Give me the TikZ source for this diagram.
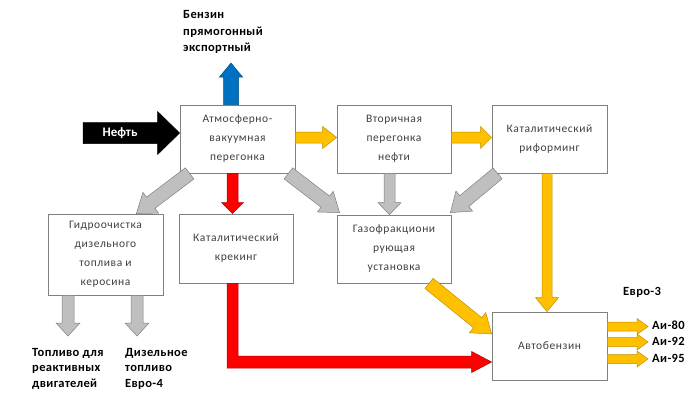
\documentclass[tikz,border=0pt]{standalone}
\usepackage{fontspec}
\setmainfont{Carlito}
\newfontfamily\boxfont[LetterSpace=5]{Carlito}
\newfontfamily\lblfont[LetterSpace=3]{Carlito}
\usetikzlibrary{calc}
\definecolor{ayellow}{HTML}{FFC000}
\definecolor{ared}{HTML}{FF0000}
\definecolor{ablue}{HTML}{0070C0}
\definecolor{agray}{HTML}{BFBFBF}
\definecolor{boxtext}{HTML}{404040}
\definecolor{boxline}{HTML}{808080}
% #1 style, #2 from, #3 to, #4 half body, #5 half head, #6 head length
\newcommand\blockarrow[6][]{%
  \coordinate (ba-h) at ($(#3)!#6!(#2)$);
  \draw[#1] ($(#2)!#4!90:(#3)$) -- ($(ba-h)!#4!90:(#3)$) -- ($(ba-h)!#5!90:(#3)$)
    -- (#3) -- ($(ba-h)!#5!-90:(#3)$) -- ($(ba-h)!#4!-90:(#3)$) -- ($(#2)!#4!-90:(#3)$) -- cycle;}
\begin{document}
\begin{tikzpicture}[x=1pt,y=-1pt,
  box/.style={draw=boxline, line width=0.8pt, fill=white, minimum width=115pt,
    minimum height=68pt, align=center, inner sep=0pt, text=boxtext,
    font=\boxfont\fontsize{11.5}{19}\selectfont},
  lbl/.style={anchor=base west, align=left, inner sep=0pt,
    font=\lblfont\bfseries\fontsize{12.5}{16}\selectfont},
  yarrow/.style={fill=ayellow, draw=ayellow!75!black, line width=0.5pt},
  garrow/.style={fill=agray, draw=black!50, line width=0.5pt},
  rarrow/.style={fill=ared, draw=ared!70!black, line width=0.5pt},
  barrow/.style={fill=ablue, draw=ablue!70!black, line width=0.5pt},
  karrow/.style={fill=black, draw=black, line width=0.5pt}]
\useasboundingbox (0,0) rectangle (700,404);
\fill[white] (0,0) rectangle (700,404);

% boxes
\node[box] (atmo) at (237.5,139) {Атмосферно-\\вакуумная\\перегонка};
\node[box, minimum width=114pt] (vtor) at (394,139) {Вторичная\\перегонка\\нефти};
\node[box] (rif) at (549.5,139) {Каталитический\\риформинг};
\node[box, minimum width=114pt] (gaz) at (394,249) {Газофракциони\\рующая\\установка};
\node[box, minimum height=81pt] (gidro) at (105.5,254.5) {Гидроочистка\\дизельного\\топлива и\\керосина};
\node[box, minimum width=114pt, minimum height=69pt] (krek) at (236,248.5) {Каталитический\\крекинг};
\node[box] (avto) at (549.5,346) {Автобензин};

% coordinates
\coordinate (oil) at (83,133);
\coordinate (oilend) at ([yshift=6pt]atmo.west);
\coordinate (bs) at ([xshift=-6.5pt]atmo.north);
\coordinate (be) at (231,63);
\coordinate (y1s) at ([yshift=1.5pt]atmo.east);
\coordinate (y1e) at ([yshift=1.5pt]vtor.west);
\coordinate (y2s) at ([yshift=1.5pt]vtor.east);
\coordinate (y2e) at ([yshift=1.5pt]rif.west);
\coordinate (g1s) at ([xshift=-4.5pt]vtor.south);
\coordinate (g1e) at ([xshift=-4.5pt]gaz.north);
\coordinate (g2s) at ([xshift=6pt]rif.south west);
\coordinate (g2e) at ([xshift=-1pt,yshift=2pt]gaz.north east);
\coordinate (g3s) at ([xshift=10pt]atmo.south west);
\coordinate (g3e) at ([xshift=-27pt]gidro.north east);
\coordinate (r1s) at ([xshift=-5pt]atmo.south);
\coordinate (r1e) at ([xshift=-3.5pt]krek.north);
\coordinate (g4s) at ([xshift=-7pt]atmo.south east);
\coordinate (g4e) at ([xshift=3pt,yshift=2pt]gaz.north west);
\coordinate (y3s) at ([xshift=-2.5pt]rif.south);
\coordinate (y3e) at ([xshift=-2.5pt]avto.north);
\coordinate (y4s) at ([xshift=35pt]gaz.south);
\coordinate (y4e) at ([yshift=12pt]avto.west);
\coordinate (g5s) at ([xshift=-37.5pt]gidro.south);
\coordinate (g5e) at (68,336);
\coordinate (g6s) at ([xshift=31.5pt]gidro.south);
\coordinate (g6e) at (137,336);
\coordinate (rs) at ([xshift=-3.5pt]krek.south);
\coordinate (rt) at ([yshift=-16pt]avto.west);
\coordinate (o1s) at ([yshift=19.5pt]avto.east);
\coordinate (o1e) at (648,326.5);
\coordinate (o2s) at ([yshift=4pt]avto.east);
\coordinate (o2e) at (648,342);
\coordinate (o3s) at ([yshift=-13pt]avto.east);
\coordinate (o3e) at (648,359);

% arrows
\blockarrow[karrow]{oil}{oilend}{10.5pt}{21.5pt}{22pt}
\node[text=white, font=\bfseries\fontsize{13}{15}\selectfont, inner sep=0pt] (oiltxt) at (120,133) {Нефть};
\blockarrow[barrow]{bs}{be}{7.5pt}{11.5pt}{14pt}
\blockarrow[yarrow]{y1s}{y1e}{5.5pt}{11pt}{14pt}
\blockarrow[yarrow]{y2s}{y2e}{5.5pt}{11pt}{11pt}
\blockarrow[garrow]{g1s}{g1e}{5.5pt}{11.5pt}{12pt}
\blockarrow[garrow]{g2s}{g2e}{7pt}{13pt}{18pt}
\blockarrow[garrow]{g3s}{g3e}{7pt}{13pt}{18pt}
\blockarrow[rarrow]{r1s}{r1e}{5.5pt}{11pt}{11pt}
\blockarrow[garrow]{g4s}{g4e}{7pt}{13pt}{18pt}
\blockarrow[yarrow]{y3s}{y3e}{5pt}{11.5pt}{14pt}
\blockarrow[yarrow]{y4s}{y4e}{6.5pt}{13pt}{18pt}
\blockarrow[garrow]{g5s}{g5e}{6pt}{12pt}{13pt}
\blockarrow[garrow]{g6s}{g6e}{6pt}{12pt}{13pt}
\blockarrow[yarrow]{o1s}{o1e}{4.5pt}{8pt}{11pt}
\blockarrow[yarrow]{o2s}{o2e}{4.5pt}{8pt}{11pt}
\blockarrow[yarrow]{o3s}{o3e}{4.5pt}{8pt}{11pt}
\draw[rarrow] let \p1=(rs), \p2=(rt) in
  (\x1-5.5pt,\y1) -- (\x1-5.5pt,\y2-6pt) -- (\x2-20pt,\y2-6pt) -- (\x2-20pt,\y2-10.5pt)
  -- (\p2) -- (\x2-20pt,\y2+10.5pt) -- (\x2-20pt,\y2+6pt) -- (\x1+5.5pt,\y2+6pt)
  -- (\x1+5.5pt,\y1) -- cycle;

% labels (multi-line: anchored at the last line's baseline)
\node[lbl, font=\lblfont\bfseries\fontsize{12.5}{16.5}\selectfont] (benz) at (183,52) {Бензин\\прямогонный\\экспортный};
\node[lbl, font=\lblfont\bfseries\fontsize{12.5}{15.5}\selectfont] (jet) at (32,387) {Топливо для\\реактивных\\двигателей};
\node[lbl, font=\lblfont\bfseries\fontsize{12.5}{15.5}\selectfont] (diz) at (125,387) {Дизельное\\топливо\\Евро-4};
\node[lbl] (euro3) at (623,295) {Евро-3};
\node[lbl] (ai80) at (652,329) {Аи-80};
\node[lbl] (ai92) at (652,345) {Аи-92};
\node[lbl] (ai95) at (652,362) {Аи-95};
\end{tikzpicture}
\end{document}
